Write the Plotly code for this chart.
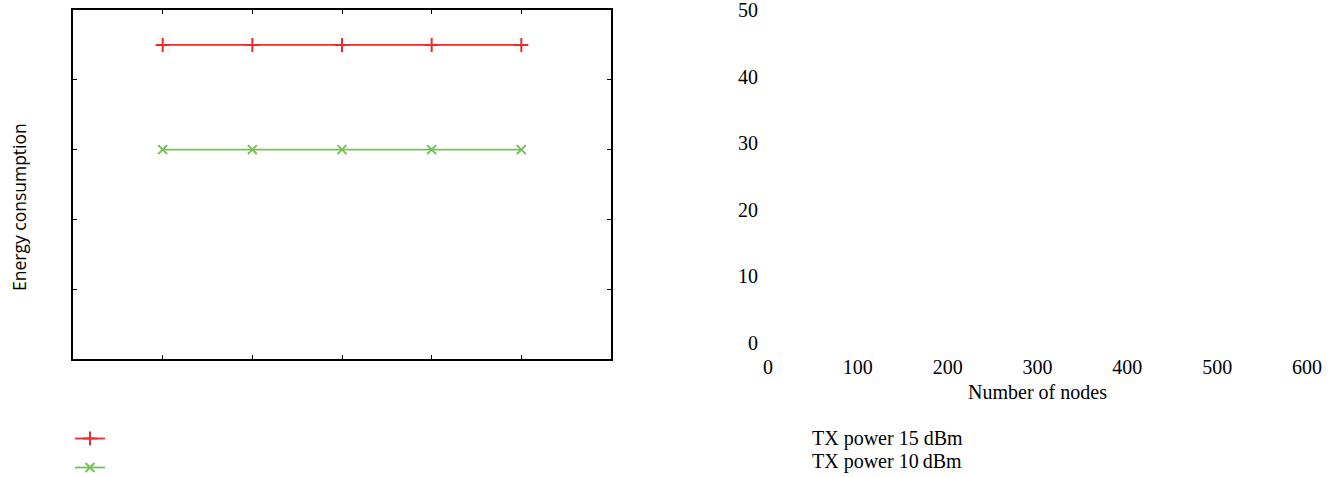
import plotly.graph_objects as go

W, H = 1336, 477

nodes = [100, 200, 300, 400, 500]
tx15 = [45, 45, 45, 45, 45]
tx10 = [30, 30, 30, 30, 30]
series_names = ["TX power 15 dBm", "TX power 10\u2009dBm"]
x_ticks = [0, 100, 200, 300, 400, 500, 600]
y_ticks = [0, 10, 20, 30, 40, 50]
x_title = "Number of nodes"
y_title = "Energy consumption"

RED = "#ee2a2a"
GREEN = "#74c255"
SERIF = "Liberation Serif, Times New Roman, serif"

def px(x):
    return x / W

def py(y):
    return 1 - y / H

fig = go.Figure()
fig.add_trace(go.Scatter(
    x=nodes, y=tx15, mode="lines+markers", name=" ",
    line=dict(color=RED, width=1.8),
    marker=dict(symbol="cross-thin", size=10, color=RED, line=dict(color=RED, width=2)),
    xaxis="x", yaxis="y"))
fig.add_trace(go.Scatter(
    x=nodes, y=tx10, mode="lines+markers", name="  ",
    line=dict(color=GREEN, width=1.8),
    marker=dict(symbol="x-thin", size=9, color=GREEN, line=dict(color=GREEN, width=2)),
    xaxis="x", yaxis="y"))
# invisible trace carrying the displaced tick-label axes
fig.add_trace(go.Scatter(x=[x_ticks[0], x_ticks[-1]], y=[y_ticks[0], y_ticks[-1]],
                         mode="markers", marker=dict(opacity=0), showlegend=False,
                         hoverinfo="skip", xaxis="x2", yaxis="y2"))

fig.update_layout(
    width=W, height=H, autosize=False,
    margin=dict(l=0, r=0, t=0, b=0, pad=0, autoexpand=False),
    paper_bgcolor="white", plot_bgcolor="white",
    font=dict(family=SERIF, size=20, color="black"),
    showlegend=True,
    legend=dict(x=px(70), y=py(419), xanchor="left", yanchor="top",
                bgcolor="rgba(0,0,0,0)", borderwidth=0,
                font=dict(size=20), tracegroupgap=0),
    xaxis=dict(domain=[px(73), px(611)], range=[0, 600], anchor="y",
               tickvals=x_ticks[1:-1], showticklabels=False,
               ticks="inside", ticklen=4, tickwidth=1.2, tickcolor="black",
               showline=True, linecolor="black", linewidth=2, mirror="ticks",
               showgrid=False, zeroline=False),
    yaxis=dict(domain=[py(359), py(10)], range=[0, 50], anchor="x",
               tickvals=y_ticks[1:-1], showticklabels=False,
               ticks="inside", ticklen=4, tickwidth=1.2, tickcolor="black",
               showline=True, linecolor="black", linewidth=2, mirror="ticks",
               showgrid=False, zeroline=False),
    xaxis2=dict(domain=[px(768), px(1307)], range=[0, 600], anchor="free",
                position=py(353), tickvals=x_ticks, ticks="", showline=False,
                showgrid=False, zeroline=False, ticklabeloverflow="allow",
                tickfont=dict(family=SERIF, size=20),
                title=dict(text=x_title, font=dict(family=SERIF, size=20), standoff=7)),
    yaxis2=dict(domain=[py(343), py(10)], range=[0, 50], anchor="free",
                position=px(768), tickvals=y_ticks, ticks="outside", ticklen=6,
                tickcolor="rgba(0,0,0,0)", showline=False, ticklabeloverflow="allow",
                showgrid=False, zeroline=False,
                tickfont=dict(family=SERIF, size=20)),
)

fig.add_annotation(text=y_title, textangle=-90, x=px(19), y=py(207),
                   xref="paper", yref="paper", xanchor="center", yanchor="middle",
                   showarrow=False,
                   font=dict(family="Open Sans, sans-serif", size=17.5, color="black"))
for name, yy in zip(series_names, [438, 461]):
    fig.add_annotation(text=name, x=px(810), y=py(yy), xref="paper", yref="paper",
                       xanchor="left", yanchor="middle", showarrow=False,
                       font=dict(family=SERIF, size=20, color="black"))

fig.write_html("out.html", config={"displayModeBar": False},
               post_script="document.body.style.margin='0';")
